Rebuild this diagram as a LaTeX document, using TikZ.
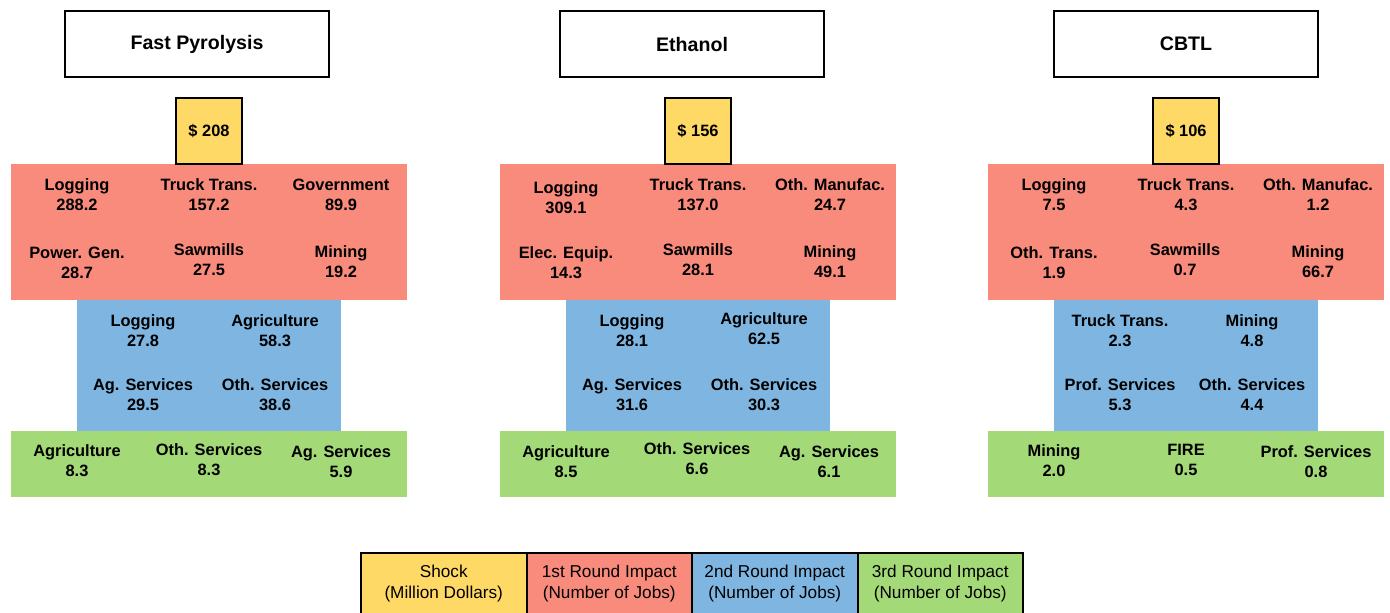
\documentclass[tikz,border=0pt]{standalone}
\usepackage{fontspec}
\setmainfont{Liberation Sans}
\usepackage{tikz}
\usetikzlibrary{positioning}

\definecolor{shockcol}{RGB}{255,217,102}
\definecolor{firstcol}{RGB}{249,139,125}
\definecolor{secondcol}{RGB}{127,182,225}
\definecolor{thirdcol}{RGB}{163,217,119}

\begin{document}
\begin{tikzpicture}[
      x=0.5pt,y=-0.5pt,
      title/.style={draw=black,line width=1pt,fill=white,minimum width=132pt,
        minimum height=33pt,inner sep=0pt,
        font=\fontsize{9.8}{12}\selectfont\bfseries},
      shock/.style={draw=black,line width=1pt,fill=shockcol,minimum width=33pt,
        minimum height=33pt,inner sep=0pt,
        font=\fontsize{8.2}{10}\selectfont\bfseries},
      first/.style={fill=firstcol,minimum width=198pt,minimum height=68pt,inner sep=0pt},
      second/.style={fill=secondcol,minimum width=132pt,minimum height=65.5pt,inner sep=0pt},
      third/.style={fill=thirdcol,minimum width=198pt,minimum height=33pt,inner sep=0pt},
      lbl/.style={align=center,inner sep=0pt,
        font=\fontsize{8.2}{10}\selectfont\bfseries},
      key/.style={draw=black,line width=1pt,minimum width=82.75pt,minimum height=31pt,
        inner sep=0pt,outer sep=0pt,align=center,font=\fontsize{8.6}{10.5}\selectfont}
    ]
    \clip (0,0) rectangle (1390,612);
    % Fast Pyrolysis
    \node[title] (fpT) at (197,44) {Fast Pyrolysis};
    \node[first] (fpA) at (209,232) {};
    \node[second] (fpB) at (209,365.5) {};
    \node[third] (fpC) at (209,464) {};
    \node[shock] (fpS) at (209,131) {\$ 208};
    \node[lbl] (fpA1) at (77,195) {Logging\\288.2};
    \node[lbl] (fpA2) at (209,195) {Truck Trans.\\157.2};
    \node[lbl] (fpA3) at (341,195) {Government\\89.9};
    \node[lbl] (fpA4) at (77,263) {Power. Gen.\\28.7};
    \node[lbl] (fpA5) at (209,260) {Sawmills\\27.5};
    \node[lbl] (fpA6) at (341,262) {Mining\\19.2};
    \node[lbl] (fpB1) at (143,331) {Logging\\27.8};
    \node[lbl] (fpB2) at (275,331) {Agriculture\\58.3};
    \node[lbl] (fpB3) at (143,395) {Ag. Services\\29.5};
    \node[lbl] (fpB4) at (275,395) {Oth. Services\\38.6};
    \node[lbl] (fpC1) at (77,461) {Agriculture\\8.3};
    \node[lbl] (fpC2) at (209,460) {Oth. Services\\8.3};
    \node[lbl] (fpC3) at (341,462) {Ag. Services\\5.9};
    % Ethanol
    \node[title] (etT) at (692,44) {Ethanol};
    \node[first] (etA) at (698,232) {};
    \node[second] (etB) at (698,365.5) {};
    \node[third] (etC) at (698,464) {};
    \node[shock] (etS) at (698,131) {\$ 156};
    \node[lbl] (etA1) at (566,198) {Logging\\309.1};
    \node[lbl] (etA2) at (698,195) {Truck Trans.\\137.0};
    \node[lbl] (etA3) at (830,195) {Oth. Manufac.\\24.7};
    \node[lbl] (etA4) at (566,263) {Elec. Equip.\\14.3};
    \node[lbl] (etA5) at (698,260) {Sawmills\\28.1};
    \node[lbl] (etA6) at (830,262) {Mining\\49.1};
    \node[lbl] (etB1) at (632,331) {Logging\\28.1};
    \node[lbl] (etB2) at (764,329) {Agriculture\\62.5};
    \node[lbl] (etB3) at (632,395) {Ag. Services\\31.6};
    \node[lbl] (etB4) at (764,395) {Oth. Services\\30.3};
    \node[lbl] (etC1) at (566,462) {Agriculture\\8.5};
    \node[lbl] (etC2) at (697,459) {Oth. Services\\6.6};
    \node[lbl] (etC3) at (829,462) {Ag. Services\\6.1};
    % CBTL
    \node[title] (cbT) at (1186,44) {CBTL};
    \node[first] (cbA) at (1186,232) {};
    \node[second] (cbB) at (1186,365.5) {};
    \node[third] (cbC) at (1186,464) {};
    \node[shock] (cbS) at (1186,131) {\$ 106};
    \node[lbl] (cbA1) at (1054,195) {Logging\\7.5};
    \node[lbl] (cbA2) at (1186,195) {Truck Trans.\\4.3};
    \node[lbl] (cbA3) at (1318,195) {Oth. Manufac.\\1.2};
    \node[lbl] (cbA4) at (1054,263) {Oth. Trans.\\1.9};
    \node[lbl] (cbA5) at (1185,260) {Sawmills\\0.7};
    \node[lbl] (cbA6) at (1318,262) {Mining\\66.7};
    \node[lbl] (cbB1) at (1120,331) {Truck Trans.\\2.3};
    \node[lbl] (cbB2) at (1252,331) {Mining\\4.8};
    \node[lbl] (cbB3) at (1120,395) {Prof. Services\\5.3};
    \node[lbl] (cbB4) at (1252,395) {Oth. Services\\4.4};
    \node[lbl] (cbC1) at (1054,461) {Mining\\2.0};
    \node[lbl] (cbC2) at (1186,460) {FIRE\\0.5};
    \node[lbl] (cbC3) at (1316,462) {Prof. Services\\0.8};
    % legend
    \node[key,fill=shockcol] (k1) at (443.75,584) {Shock\\(Million Dollars)};
    \node[key,fill=firstcol,right=0pt of k1] (k2) {1st Round Impact\\(Number of Jobs)};
    \node[key,fill=secondcol,right=0pt of k2] (k3) {2nd Round Impact\\(Number of Jobs)};
    \node[key,fill=thirdcol,right=0pt of k3] (k4) {3rd Round Impact\\(Number of Jobs)};
  \end{tikzpicture}
\end{document}
